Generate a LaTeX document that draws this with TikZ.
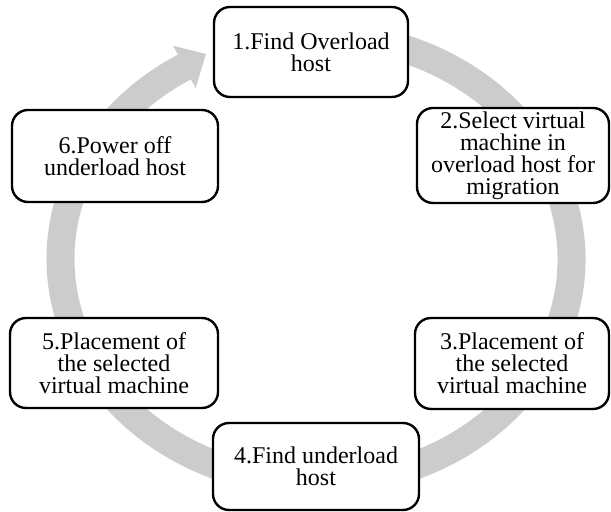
\documentclass[tikz,border=0pt]{standalone}
\usepackage{fontspec}
\setmainfont{Liberation Serif}
\definecolor{ringgray}{RGB}{204,204,204}
\begin{document}
\begin{tikzpicture}[x=0.5pt,y=-0.5pt,
  stepbox/.style={draw=black, line width=1.2pt, fill=white, rounded corners=8pt,
    align=center, inner sep=0pt, font=\fontsize{12}{11}\selectfont},
  ringline/.style={draw=ringgray, line width=14pt}]
\useasboundingbox (0,0) rectangle (611,512);
% circular arrow ring
\draw[ringline] (316,259) ++(-100:255.5 and 224)
  arc[start angle=-100, end angle=239, x radius=255.5, y radius=224];
\fill[ringgray] (173.2,45.8) -- (206,54) -- (195.6,88.2) -- cycle;
% boxes
\node[stepbox, minimum width=97pt, minimum height=45pt] (b1) at (311,52)
  {1.Find Overload\\host};
\node[stepbox, minimum width=96pt, minimum height=47.5pt] (b2) at (513,155.5)
  {2.Select virtual\\machine in\\overload host for\\migration};
\node[stepbox, minimum width=97pt, minimum height=45.5pt] (b3) at (512,363.5)
  {3.Placement of\\the selected\\virtual machine};
\node[stepbox, minimum width=103pt, minimum height=43.5pt] (b4) at (316,466.5)
  {4.Find underload\\host};
\node[stepbox, minimum width=104pt, minimum height=45pt] (b5) at (114,363)
  {5.Placement of\\the selected\\virtual machine};
\node[stepbox, minimum width=103pt, minimum height=46pt] (b6) at (115,156)
  {6.Power off\\underload host};
\end{tikzpicture}
\end{document}
